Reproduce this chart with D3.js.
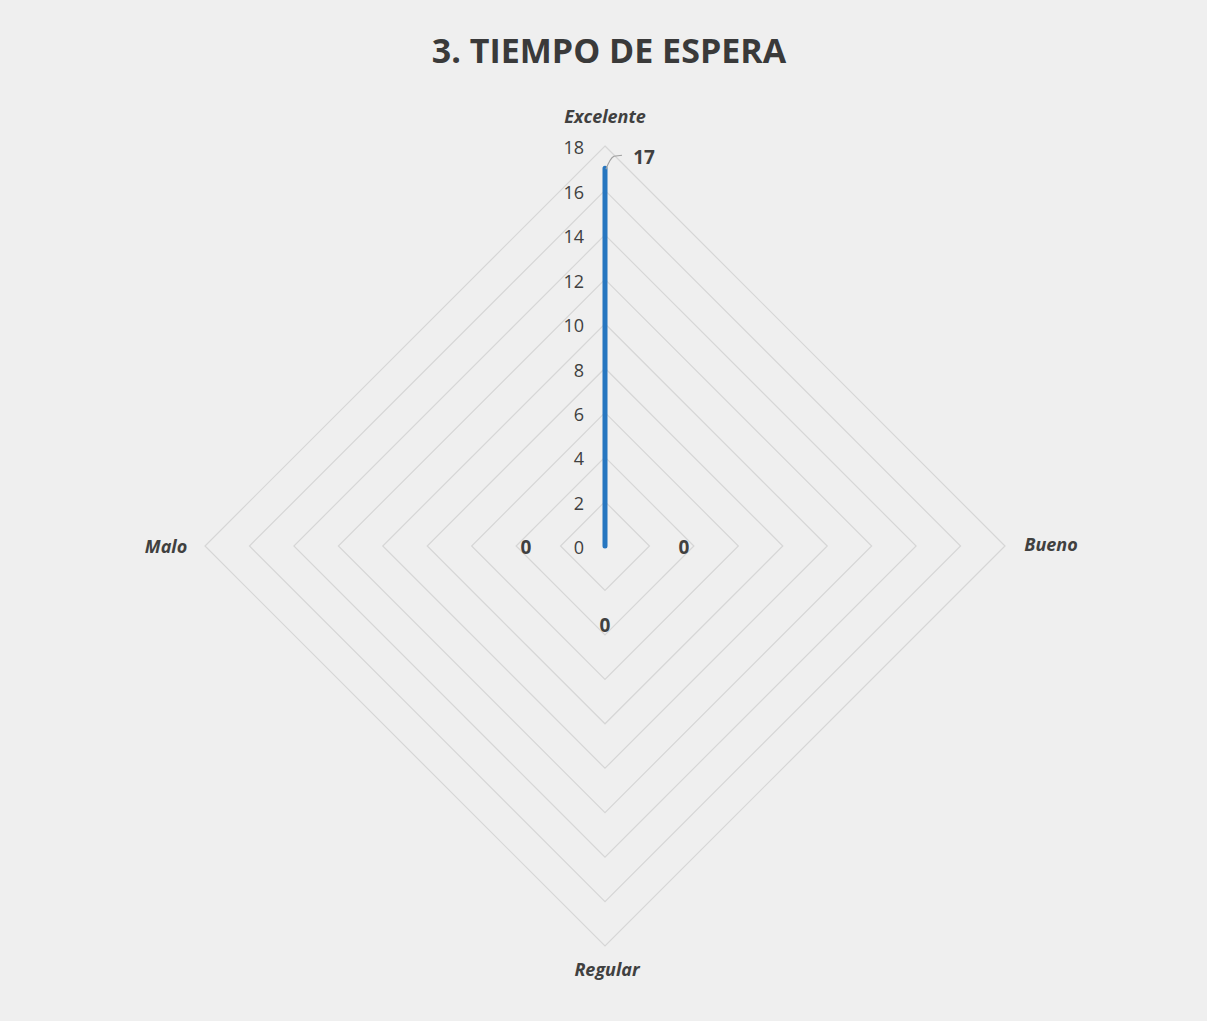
<!DOCTYPE html>
<html>
  <head>
    <meta charset="UTF-8" />
    <style>
      body { margin: 0; background: #efefef; }
      svg { display: block; }
      text { font-family: 'Open Sans', 'Noto Sans', sans-serif; fill: #404040; }
    </style>
  </head>
  <body>
    <svg></svg>
    <script src="https://d3js.org/d3.v7.min.js"></script>
    <script>
      let width = 1207,
        height = 1021

      // data
      let categories = ['Excelente', 'Bueno', 'Regular', 'Malo']
      let values = [17, 0, 0, 0]
      let ticks = [0, 2, 4, 6, 8, 10, 12, 14, 16, 18]
      let title = '3. TIEMPO DE ESPERA'

      let svg = d3.select('svg').attr('width', width).attr('height', height)

      svg.append('rect').attr('width', width).attr('height', height).attr('fill', '#efefef')

      let cx = 605,
        cy = 546

      let r = d3.scaleLinear().domain([0, 18]).range([0, 400])
      // 4 categories spread round the circle, first one at the top
      let ang = (c) => (categories.indexOf(c) * 2 * Math.PI) / categories.length

      let g = svg.append('g').attr('transform', `translate(${cx},${cy})`)

      // grid diamonds
      let radarLine = d3
        .lineRadial()
        .angle((d) => ang(d.c))
        .radius((d) => r(d.v))
        .curve(d3.curveLinearClosed)

      g.append('g')
        .attr('id', 'grid')
        .selectAll('path')
        .data(ticks.filter((t) => t > 0))
        .enter()
        .append('path')
        .attr('d', (t) => radarLine(categories.map((c) => ({ c: c, v: t }))))
        .attr('fill', 'none')
        .attr('stroke', '#d6d6d6')
        .attr('stroke-width', 1.2)

      // tick labels
      g.append('g')
        .selectAll('text')
        .data(ticks)
        .enter()
        .append('text')
        .attr('x', -21)
        .attr('y', (t) => -r(t) + 2)
        .attr('dy', '0.35em')
        .attr('text-anchor', 'end')
        .style('font-size', '18px')
        .text((t) => t)

      // series
      let series = categories.map((c, i) => ({ c: c, v: values[i] }))
      g.append('path')
        .attr('d', radarLine(series))
        .attr('fill', 'none')
        .attr('stroke', '#2676c0')
        .attr('stroke-width', 5)
        .attr('stroke-linejoin', 'round')
        .attr('stroke-linecap', 'round')

      // category labels
      let labelPos = {
        Excelente: [0, -429],
        Bueno: [446, -1],
        Regular: [2, 424],
        Malo: [-439, 1],
      }
      g.append('g')
        .selectAll('text')
        .data(categories)
        .enter()
        .append('text')
        .attr('x', (c) => labelPos[c][0])
        .attr('y', (c) => labelPos[c][1])
        .attr('dy', '0.35em')
        .attr('text-anchor', 'middle')
        .style('font-size', '18px')
        .style('font-style', 'italic')
        .style('font-weight', 'bold')
        .text((c) => c)

      // data labels
      let dataLabelOffset = {
        Excelente: [39, -11],
        Bueno: [79, 1],
        Regular: [0, 79],
        Malo: [-79, 1],
      }
      let pt = (d) => {
        let a = ang(d.c)
        return [Math.sin(a) * r(d.v), -Math.cos(a) * r(d.v)]
      }

      // leader line for the top label
      let tip = pt(series[0])
      g.append('path')
        .attr(
          'd',
          `M${tip[0] + 1},${tip[1] + 1} Q${tip[0] + 5},${tip[1] - 10} ${tip[0] + 9},${tip[1] - 12} L${tip[0] + 17},${tip[1] - 13}`
        )
        .attr('fill', 'none')
        .attr('stroke', '#a0a0a0')
        .attr('stroke-width', 1.2)

      g.append('g')
        .selectAll('text')
        .data(series)
        .enter()
        .append('text')
        .attr('x', (d) => pt(d)[0] + dataLabelOffset[d.c][0])
        .attr('y', (d) => pt(d)[1] + dataLabelOffset[d.c][1])
        .attr('dy', '0.35em')
        .attr('text-anchor', 'middle')
        .style('font-size', '19px')
        .style('font-weight', 'bold')
        .text((d) => d.v)

      // title
      svg
        .append('text')
        .attr('x', 609)
        .attr('y', 51)
        .attr('dy', '0.35em')
        .attr('text-anchor', 'middle')
        .style('font-size', '34px')
        .style('font-weight', 'bold')
        .style('fill', '#3a3a3a')
        .text(title)
    </script>
  </body>
</html>
